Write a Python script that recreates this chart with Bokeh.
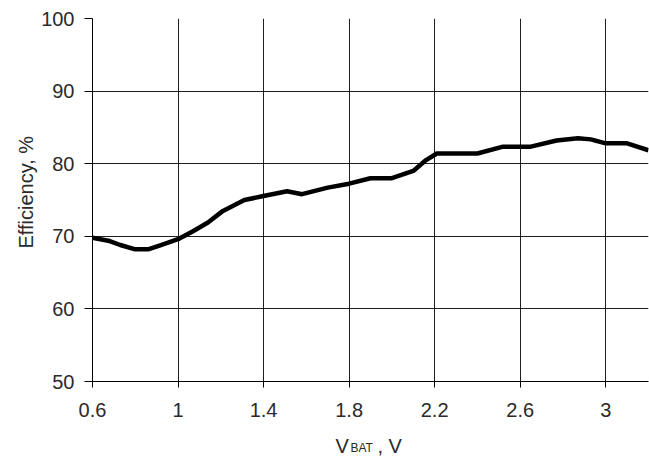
from bokeh.plotting import figure
from bokeh.layouts import column
from bokeh.models import Range1d, FixedTicker, NumeralTickFormatter, Label, Title
from bokeh.embed import file_html
from bokeh.resources import INLINE

# ---- data ----
vbat = [0.60, 0.68, 0.73, 0.80, 0.86, 0.92, 1.00, 1.07, 1.14, 1.21, 1.31, 1.40,
        1.51, 1.58, 1.70, 1.80, 1.90, 2.00, 2.10, 2.16, 2.21, 2.40, 2.52, 2.65,
        2.77, 2.87, 2.93, 3.00, 3.10, 3.20]
efficiency = [69.8, 69.35, 68.8, 68.2, 68.2, 68.8, 69.6, 70.7, 71.9, 73.5, 75.0, 75.55,
              76.2, 75.8, 76.7, 77.25, 78.0, 78.0, 79.0, 80.5, 81.4, 81.4, 82.35, 82.35,
              83.2, 83.5, 83.35, 82.8, 82.8, 81.85]
x_ticks = [0.6, 1.0, 1.4, 1.8, 2.2, 2.6, 3.0]
y_ticks = [50, 60, 70, 80, 90, 100]
x_title_main = "V"
x_title_sub = "BAT"
x_title_tail = ", V"
y_title = "Efficiency, %"

FONT = "Liberation Sans"
TXT = "#2a2a2a"
W = 649

p = figure(width=W, height=430, output_backend="svg", toolbar_location=None,
           x_range=Range1d(0.6, 3.2), y_range=Range1d(50, 100),
           min_border_left=92, min_border_right=1, min_border_top=18,
           min_border_bottom=49)
p.outline_line_color = None
p.background_fill_color = "white"
p.border_fill_color = "white"

p.line(vbat, efficiency, line_color="black", line_width=4.5, line_join="round")

for ax, ticks in ((p.xaxis, x_ticks), (p.yaxis, y_ticks)):
    ax.ticker = FixedTicker(ticks=ticks)
    ax.axis_line_color = "black"
    ax.axis_line_width = 1
    ax.major_tick_line_color = "black"
    ax.major_tick_in = 0
    ax.minor_tick_line_color = None
    ax.major_label_text_font = FONT
    ax.major_label_text_font_size = "20px"
    ax.major_label_text_color = TXT

p.xaxis.major_tick_out = 6
p.xaxis.major_label_standoff = 15
p.xaxis.formatter = NumeralTickFormatter(format="0.[0]")
p.yaxis.major_tick_out = 8
p.yaxis.major_label_standoff = 10

p.xgrid.ticker = FixedTicker(ticks=x_ticks)
p.ygrid.ticker = FixedTicker(ticks=y_ticks)
for g in (p.xgrid, p.ygrid):
    g.grid_line_color = "#1e1e1e"
    g.grid_line_width = 1
    g.grid_line_alpha = 1.0

# y-axis title in the left side panel (starts 133px above the frame bottom)
p.add_layout(Title(text=y_title, align="left", offset=133, standoff=4,
                   text_font=FONT, text_font_size="20px", text_font_style="normal",
                   text_color=TXT), "left")

# x-axis title with subscript, in a strip whose frame is aligned with the plot frame
strip = figure(width=W, height=26, output_backend="svg", toolbar_location=None,
               x_range=Range1d(92, 648), y_range=Range1d(0, 26),
               min_border=0, x_axis_type=None, y_axis_type=None)
strip.outline_line_color = None
strip.background_fill_color = "white"
strip.border_fill_color = "white"
strip.grid.visible = False
common = dict(text_font=FONT, text_color=TXT, text_align="left",
              text_baseline="alphabetic")
strip.add_layout(Label(x=335, y=11, text=x_title_main, text_font_size="20px", **common))
strip.add_layout(Label(x=350, y=9, text=x_title_sub, text_font_size="12px", **common))
strip.add_layout(Label(x=377, y=11, text=x_title_tail, text_font_size="20px", **common))

layout = column(p, strip, spacing=0)
open("out.html", "w").write(file_html(layout, INLINE))
